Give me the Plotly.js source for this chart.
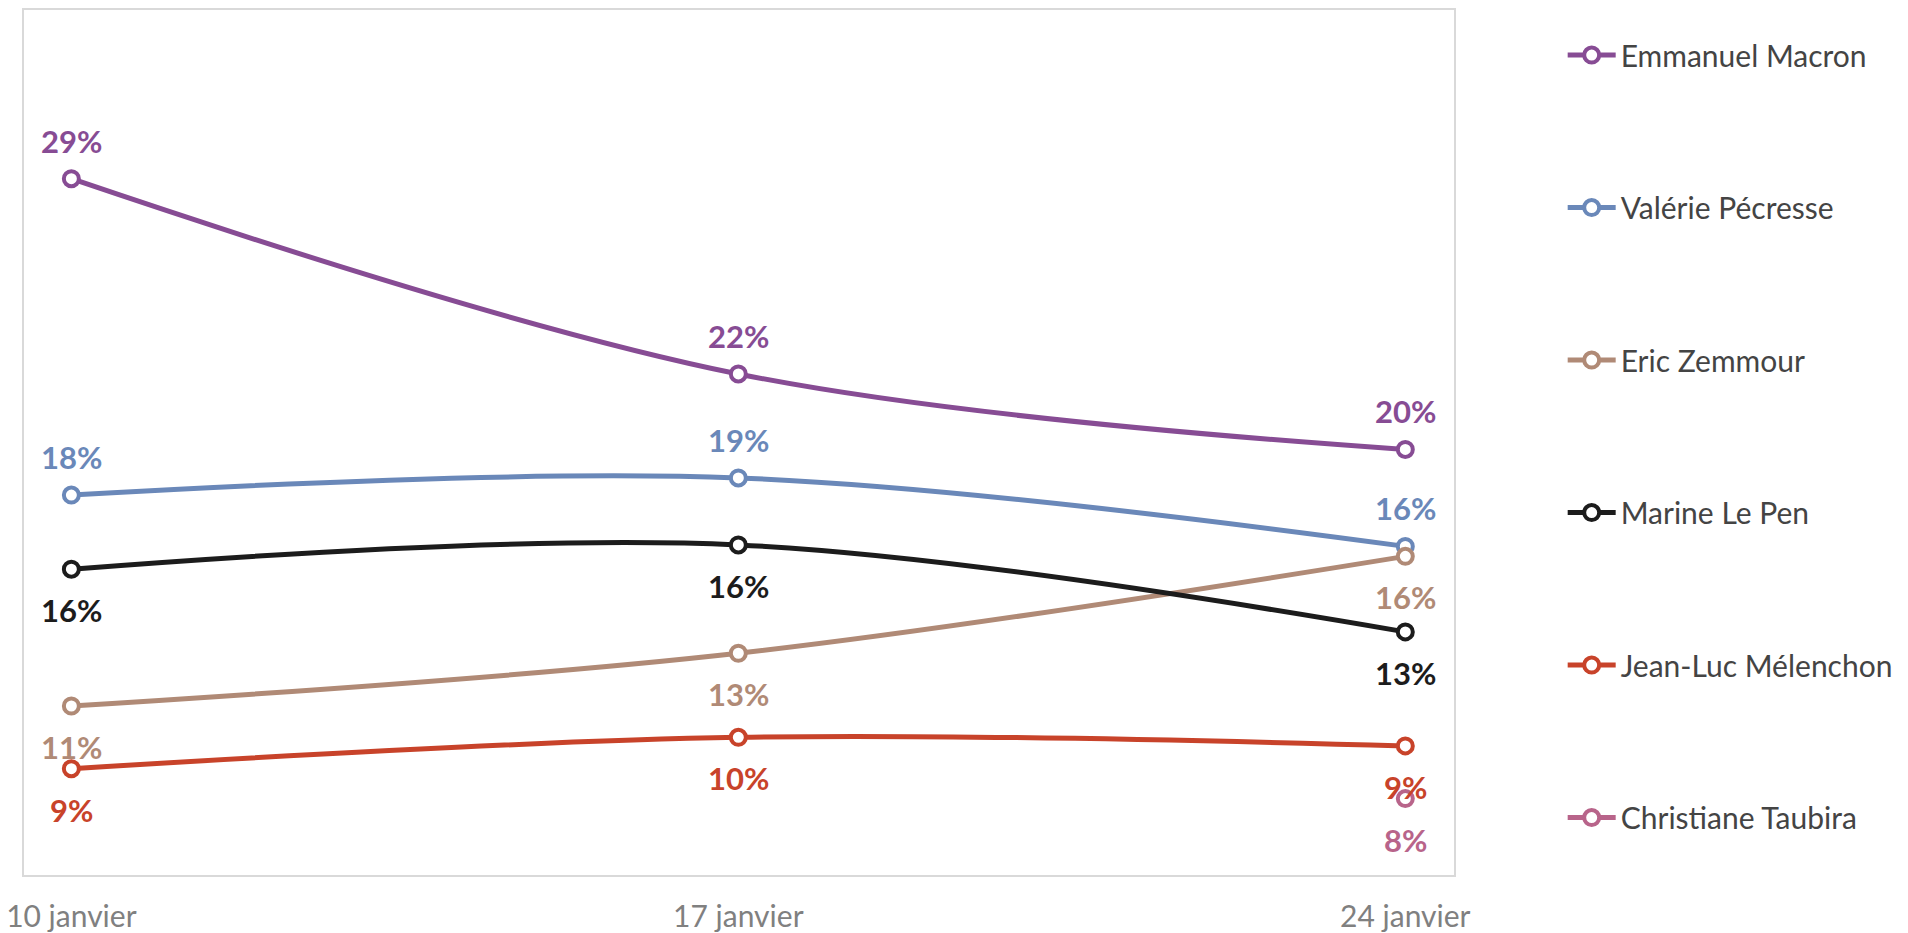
<!DOCTYPE html>
<html>
<head>
<meta charset="utf-8">
<script src="https://cdn.plot.ly/plotly-3.0.1.min.js"></script>
<style>html,body{margin:0;padding:0;background:#fff;}#chart{width:1908px;height:933px;}</style>
</head>
<body>
<div id="chart"></div>
<script>
const dates = ["10 janvier", "17 janvier", "24 janvier"];
const names = ["Emmanuel Macron", "Valérie Pécresse", "Eric Zemmour", "Marine Le Pen", "Jean-Luc Mélenchon", "Christiane Taubira"];
const colors = ["#874c94", "#6a88b9", "#b08a76", "#1c1c1c", "#c8432a", "#b8648a"];
const macron = [29.3, 22.45, 19.8];
const pecresse = [18.2, 18.8, 16.4];
const zemmour = [10.8, 12.65, 16.05];
const lepen = [15.6, 16.45, 13.4];
const melenchon = [8.6, 9.7, 9.4];
const taubira = [null, null, 7.55];
// label placement: +1 above, -1 below
const labelSide = [
  [1, 1, 1],
  [1, 1, 1],
  [-1, -1, -1],
  [-1, -1, -1],
  [-1, -1, -1],
  [-1, -1, -1]
];
const series = [macron, pecresse, zemmour, lepen, melenchon, taubira];

const FONT = "Lato, 'Open Sans', sans-serif";
const traces = series.map((vals, i) => ({
  type: "scatter",
  mode: "lines+markers",
  x: dates,
  y: vals,
  name: names[i],
  legendgroup: "g" + i,
  line: {color: colors[i], width: 5, shape: "spline", smoothing: 1},
  marker: {symbol: "circle", size: 15, color: "#ffffff", line: {color: colors[i], width: 4}},
  cliponaxis: false,
  hoverinfo: "skip"
}));

const annotations = [];
series.forEach((vals, i) => {
  vals.forEach((v, j) => {
    if (v === null) return;
    const side = labelSide[i][j];
    annotations.push({
      x: dates[j], y: v, xref: "x", yref: "y",
      text: Math.round(v) + "%",
      showarrow: false,
      yshift: side > 0 ? 38 : -41,
      font: {family: FONT, size: 31, color: colors[i], weight: 700}
    });
  });
});

const layout = {
  width: 1908, height: 933,
  margin: {l: 24, r: 441, t: 10, b: 58},
  paper_bgcolor: "#ffffff",
  plot_bgcolor: "#ffffff",
  font: {family: FONT},
  showlegend: true,
  legend: {
    x: 1.076, xanchor: "left", y: 0.978, yanchor: "top",
    font: {family: FONT, size: 30},
    tracegroupgap: 110.5,
    traceorder: "grouped",
    itemwidth: 48
  },
  xaxis: {
    type: "category",
    range: [-0.071, 2.073],
    showgrid: false, zeroline: false,
    showline: true, linecolor: "#d9d9d9", linewidth: 2, mirror: true,
    ticks: "", tickfont: {family: FONT, size: 30, color: "#808080"},
    ticklabelstandoff: 14
  },
  yaxis: {
    range: [4.87, 35.22],
    showgrid: false, zeroline: false,
    showline: true, linecolor: "#d9d9d9", linewidth: 2, mirror: true,
    showticklabels: false, ticks: ""
  },
  annotations: annotations
};

Plotly.newPlot("chart", traces, layout, {displayModeBar: false, staticPlot: true});
</script>
</body>
</html>
